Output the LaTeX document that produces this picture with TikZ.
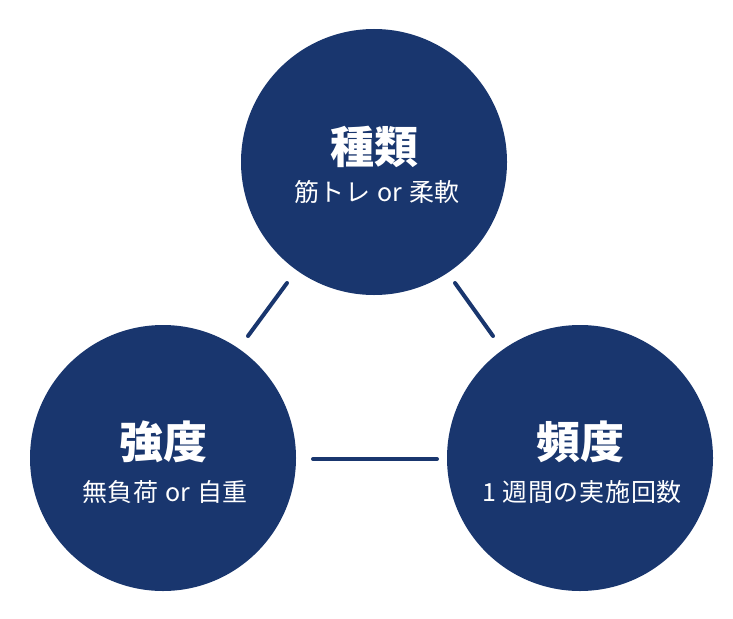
\documentclass[tikz,border=0pt]{standalone}
\usepackage{fontspec}
\setmainfont{Noto Sans CJK JP}
\newfontfamily\subfont[LetterSpace=3]{Noto Sans CJK JP}
\definecolor{navy}{HTML}{19366E}
\tikzset{
  bubble/.style={circle, fill=navy, minimum size=266pt, inner sep=0pt},
  ttl/.style={text=white, font=\fontsize{44}{44}\selectfont\bfseries, inner sep=0pt},
  sub/.style={text=white, font=\subfont\fontsize{25}{25}\selectfont, inner sep=0pt},
  link/.style={draw=navy, line width=4pt, line cap=round}
}
\begin{document}
\begin{tikzpicture}[x=1pt,y=-1pt]
\useasboundingbox (0,0) rectangle (733,618);
\node[bubble] (top) at (374,162) {};
\node[bubble] (left) at (163,458) {};
\node[bubble] (right) at (580,458) {};
\node[ttl] (t1) at (374,147) {種類};
\node[sub] (s1) at (377,192) {筋トレ or 柔軟};
\node[ttl] (t2) at (163,442) {強度};
\node[sub] (s2) at (165,492) {無負荷 or 自重};
\node[ttl] (t3) at (580,442) {頻度};
\node[sub] (s3) at (582,492) {1 週間の実施回数};
\coordinate (a1) at (287,283);
\coordinate (a2) at (248,336);
\coordinate (b1) at (455,283);
\coordinate (b2) at (493,336);
\coordinate (c1) at (313,459);
\coordinate (c2) at (437,459);
\draw[link] (a1) -- (a2);
\draw[link] (b1) -- (b2);
\draw[link] (c1) -- (c2);
\end{tikzpicture}
\end{document}
